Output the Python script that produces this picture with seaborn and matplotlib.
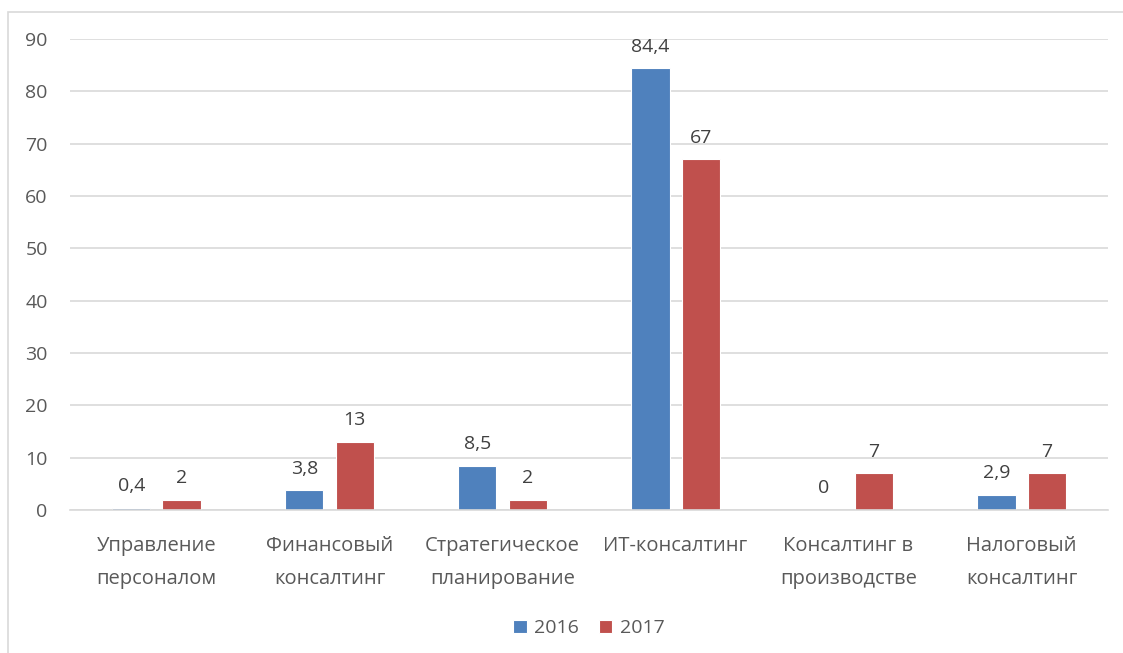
import matplotlib
matplotlib.use("Agg")
import matplotlib.pyplot as plt
import seaborn as sns
import pandas as pd
from matplotlib.patches import Rectangle

categories = ["Управление\nперсоналом", "Финансовый\nконсалтинг", "Стратегическое\nпланирование",
              "ИТ-консалтинг", "Консалтинг в\nпроизводстве", "Налоговый\nконсалтинг"]
values_2016 = [0.4, 3.8, 8.5, 84.4, 0, 2.9]
values_2017 = [2, 13, 2, 67, 7, 7]
years = ["2016", "2017"]
colors = ["#4F81BD", "#C0504D"]
yticks = [0, 10, 20, 30, 40, 50, 60, 70, 80, 90]

df = pd.DataFrame({
    "cat": categories * 2,
    "val": values_2016 + values_2017,
    "year": [years[0]] * len(categories) + [years[1]] * len(categories),
})

sns.set_theme(style="white")
plt.rcParams['font.family'] = ['Open Sans', 'DejaVu Sans']

fig = plt.figure(figsize=(11.23, 6.53), dpi=100)
ax = fig.add_axes([0.0623, 0.219, 0.9244, 0.7213])

sns.barplot(data=df, x="cat", y="val", hue="year", palette=colors, width=0.58, gap=0.24,
            saturation=1, edgecolor="white", linewidth=0.8, ax=ax, legend=True)

ax.set_ylim(0, 90)
ax.set_yticks(yticks)
ax.set_xlim(-0.5, len(categories) - 0.5)
ax.yaxis.grid(True, color="#D9D9D9", linewidth=1.2)
ax.set_axisbelow(True)
for s in ["top", "right", "left"]:
    ax.spines[s].set_visible(False)
ax.spines["bottom"].set_color("#D9D9D9")
ax.spines["bottom"].set_linewidth(1.2)
ax.set_xlabel("")
ax.set_ylabel("")
ax.tick_params(axis="y", labelsize=14, labelcolor="#595959", length=0, pad=16)
ax.tick_params(axis="x", labelsize=14.5, labelcolor="#595959", length=0, pad=19)
for lbl in ax.get_xticklabels():
    lbl.set_linespacing(1.85)

def fmt(v):
    s = f"{v:g}"
    return s.replace(".", ",")

for cont, vals in zip(ax.containers, [values_2016, values_2017]):
    ax.bar_label(cont, labels=[fmt(v) for v in vals], padding=9, fontsize=14, color="#404040")

leg = ax.legend(loc="upper center", bbox_to_anchor=(0.5, -0.195), ncol=2, frameon=False,
                fontsize=14, handlelength=0.7, handleheight=0.7, handletextpad=0.4,
                columnspacing=1.0, labelcolor="#595959")

fig.add_artist(Rectangle((8 / 1123, -0.1), 1.2, 1 - 12 / 653 + 0.1, transform=fig.transFigure,
                         fill=False, edgecolor="#D9D9D9", linewidth=1.2))

fig.savefig("out.png", dpi=100)
